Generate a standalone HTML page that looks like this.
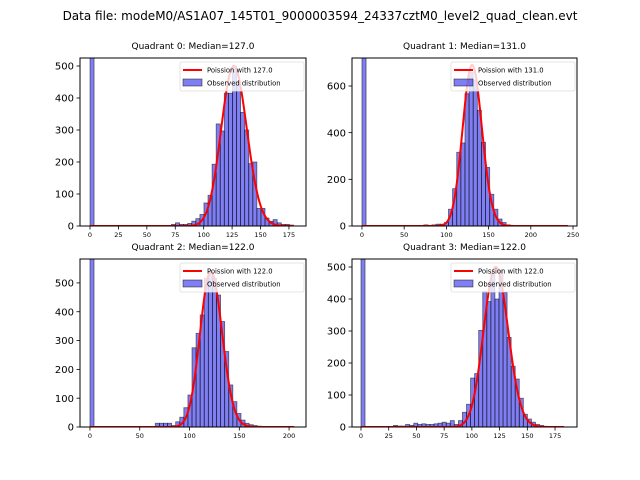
<!DOCTYPE html>
<html><head><meta charset="utf-8"><style>
body{margin:0;background:#fff;}
svg{display:block;font-family:"DejaVu Sans","Liberation Sans",sans-serif;}
</style></head><body>
<svg id="fig" width="640" height="480" viewBox="0 0 640 480" xmlns="http://www.w3.org/2000/svg">
<text x="320" y="20" font-size="12" text-anchor="middle">Data file: modeM0/AS1A07_145T01_9000003594_24337cztM0_level2_quad_clean.evt</text>
</svg>
<script>
// Quadrant data: histogram counts per bin (50 bins)
const q0Counts = [2000,0,0,0,0,0,0,0,0,0,0,0,0,0,0,0,0,0,0,0,5,10,5,5,8,15,23,36,72,96,193,319,297,415,415,500,450,355,300,195,200,55,55,25,15,20,10,5,5,3];
const q1Counts = [2000,0,0,0,0,0,0,0,0,0,0,0,0,0,0,5,3,5,8,8,15,72,160,316,356,567,660,625,496,359,251,136,72,30,15,5,2,1,0,0,0,0,0,0,0,0,0,0,0,1];
const q2Counts = [2000,0,0,0,0,0,0,0,0,0,0,0,0,0,0,0,13,13,13,13,5,18,34,67,111,275,325,389,516,539,516,458,366,262,146,88,47,24,13,8,5,3,0,0,0,0,0,0,0,1];
const q3Counts = [2000,0,0,0,0,0,0,0,5,3,3,8,5,12,8,10,8,8,10,12,15,12,20,8,20,46,71,153,167,302,424,392,481,400,490,420,280,190,150,90,40,25,15,8,5,2,0,0,0,1];
const binMax = [179, 244, 205, 183];
const medians = [127.0, 131.0, 122.0, 122.0];
const poissonPeak = [500, 690, 540, 500];
const xTicks = [[0,25,50,75,100,125,150,175],[0,50,100,150,200,250],[0,50,100,150,200],[0,25,50,75,100,125,150,175]];
const yTicks = [[0,100,200,300,400,500],[0,200,400,600],[0,100,200,300,400,500],[0,100,200,300,400,500]];
const xLims = [[-8.8,190],[-11.8,254.7],[-10,217],[-8.1,194.8]];
const yLims = [[0,525],[0,720],[0,583],[0,525]];

const allCounts=[q0Counts,q1Counts,q2Counts,q3Counts];
const boxes=[[80,58,306,226],[352,58,577,226],[80,259,306,427],[352,259,577,427]];
const NS="http://www.w3.org/2000/svg";
const fig=document.getElementById('fig');
function mk(tag,attrs,parent){const e=document.createElementNS(NS,tag);for(const k in attrs)e.setAttribute(k,attrs[k]);(parent||fig).appendChild(e);return e;}
function lnPmf(k,mu){let lg=0;for(let j=2;j<=k;j++)lg+=Math.log(j);return k*Math.log(mu)-mu-lg;}

for(let q=0;q<4;q++){
  const [L,T,R,B]=boxes[q];
  const xs=v=>L+(v-xLims[q][0])/(xLims[q][1]-xLims[q][0])*(R-L);
  const ys=v=>B-(v-yLims[q][0])/(yLims[q][1]-yLims[q][0])*(B-T);
  const g=mk('g',{});
  
  
  const cp=mk('clipPath',{id:'cp'+q},g);
  mk('rect',{x:L,y:T,width:R-L,height:B-T},cp);
  const bars=mk('g',{'clip-path':'url(#cp'+q+')'},g);
  const counts=allCounts[q];const bw=binMax[q]/counts.length;
  counts.forEach((c,i)=>{
    if(c<=0)return;
    const x0=xs(i*bw),x1=xs((i+1)*bw);
    const r=mk('rect',{x:x0,y:ys(c),width:x1-x0,height:ys(0)-ys(c),fill:'rgba(0,0,230,0.5)',stroke:'rgba(0,0,0,0.55)','stroke-width':0.8},bars);
    
    
  });
  const mu=medians[q];const ref=lnPmf(Math.floor(mu),mu);
  let d='';
  for(let k=0;k<=Math.round(binMax[q]);k++){
    const v=poissonPeak[q]*Math.exp(lnPmf(k,mu)-ref);
    d+=(k?'L':'M')+xs(k).toFixed(2)+','+ys(v).toFixed(2);
  }
  const pl=mk('path',{d:d,fill:'none',stroke:'#ff0000','stroke-width':2,'clip-path':'url(#cp'+q+')'},g);
  
  
  mk('rect',{x:L,y:T,width:R-L,height:B-T,fill:'none',stroke:'#000','stroke-width':1},g);
  xTicks[q].forEach(t=>{
    const x=xs(t);
    mk('line',{x1:x,y1:B,x2:x,y2:B+3.5,stroke:'#000','stroke-width':0.8},g);
    const tx=mk('text',{x:x,y:B+11,'font-size':6.5,'text-anchor':'middle'},g);
    tx.textContent=t;
    
    
  });
  yTicks[q].forEach(t=>{
    const y=ys(t);
    mk('line',{x1:L,y1:y,x2:L-3.5,y2:y,stroke:'#000','stroke-width':0.8},g);
    const tx=mk('text',{x:L-6,y:y+3.6,'font-size':10,'text-anchor':'end'},g);
    tx.textContent=t;
    
    
  });
  const ti=mk('text',{x:(L+R)/2,y:T-9,'font-size':9,'text-anchor':'middle'},g);
  ti.textContent='Quadrant '+q+': Median='+medians[q].toFixed(1);
  
  
  const lg=mk('g',{},g);
  
  
  const lx=R-126,ly=T+4;
  mk('rect',{x:lx,y:ly,width:124,height:29,fill:'rgba(255,255,255,0.8)',stroke:'#ddd','stroke-width':0.8,rx:2},lg);
  mk('line',{x1:lx+3,y1:ly+8,x2:lx+22,y2:ly+8,stroke:'#ff0000','stroke-width':2},lg);
  const t1=mk('text',{x:lx+27,y:ly+10.5,'font-size':6.8},lg);t1.textContent='Poission with '+medians[q].toFixed(1);
  mk('rect',{x:lx+3,y:ly+17,width:19,height:7,fill:'rgba(0,0,230,0.5)',stroke:'rgba(0,0,0,0.55)','stroke-width':0.8},lg);
  const t2=mk('text',{x:lx+27,y:ly+23.5,'font-size':6.8},lg);t2.textContent='Observed distribution';
}
</script>
</body></html>
